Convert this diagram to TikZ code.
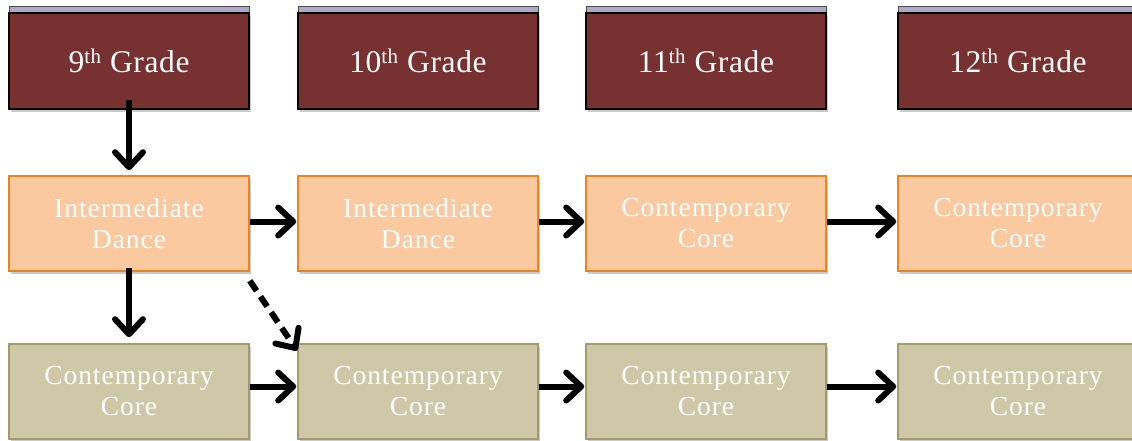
\documentclass[tikz,border=0pt]{standalone}
\usepackage{fontspec}
\setmainfont{Liberation Serif}
\usetikzlibrary{arrows.meta,shadows}
\definecolor{maroon}{HTML}{773130}
\definecolor{lav}{HTML}{B3A6CC}
\definecolor{orfill}{HTML}{FAC9A0}
\definecolor{ordraw}{HTML}{E9841E}
\definecolor{khfill}{HTML}{CEC8A8}
\definecolor{khdraw}{HTML}{A59A6A}
\tikzset{
  boxbase/.style={rectangle, minimum width=240pt, inner sep=0pt, align=center, text=white,
    drop shadow={shadow xshift=1.5pt, shadow yshift=-2.5pt, opacity=0.35, fill=black!60}},
  grade/.style={boxbase, fill=maroon, draw=black, line width=1.6pt, minimum height=96pt,
    font=\fontsize{31.5}{34}\selectfont\addfontfeature{LetterSpace=2}},
  strip/.style={rectangle, fill=lav, draw=black!70, line width=1pt, minimum width=240pt, minimum height=7pt, inner sep=0pt},
  orbox/.style={boxbase, fill=orfill, draw=ordraw, line width=1.6pt, minimum height=95pt,
    font=\fontsize{27.5}{31}\selectfont\addfontfeature{LetterSpace=3.5}},
  khbox/.style={boxbase, fill=khfill, draw=khdraw, line width=1.6pt, minimum height=95pt,
    font=\fontsize{27.5}{31}\selectfont\addfontfeature{LetterSpace=3.5}},
  arr/.style={line width=6pt, -{Straight Barb[length=15pt, width=28pt, round]}},
}
\newcommand{\gr}[1]{#1\textsuperscript{\fontsize{21}{21}\selectfont th} Grade}
\begin{document}
\begin{tikzpicture}[x=1pt,y=-1pt]
\useasboundingbox (0,0) rectangle (1132,440);
% grade strips
\node[strip] (s1) at (129,10) {};
\node[strip] (s2) at (418,10) {};
\node[strip] (s3) at (706,10) {};
\node[strip] (s4) at (1018,10) {};
% grade boxes
\node[grade] (g1) at (129,61) {\gr{9}};
\node[grade] (g2) at (418,61) {\gr{10}};
\node[grade] (g3) at (706,61) {\gr{11}};
\node[grade] (g4) at (1018,61) {\gr{12}};
% row 2
\node[orbox] (i1) at (129,223.5) {Intermediate\\Dance};
\node[orbox] (i2) at (418,223.5) {Intermediate\\Dance};
\node[orbox] (i3) at (706,223.5) {Contemporary\\Core};
\node[orbox] (i4) at (1018,223.5) {Contemporary\\Core};
% row 3
\node[khbox] (c1) at (129,391.5) {Contemporary\\Core};
\node[khbox] (c2) at (418,391.5) {Contemporary\\Core};
\node[khbox] (c3) at (706,391.5) {Contemporary\\Core};
\node[khbox] (c4) at (1018,391.5) {Contemporary\\Core};
\coordinate (dstart) at ([yshift=-9pt]i1.south east);
\coordinate (dend) at ([xshift=1pt, yshift=-9pt]c2.north west);
% arrows
\draw[arr, shorten <=-10pt, shorten >=5pt] (g1.south) -- (i1.north);
\draw[arr, shorten <=-4pt, shorten >=6pt] (i1.south) -- (c1.north);
\draw[arr, shorten >=1pt] ([yshift=2pt]i1.east) -- ([yshift=2pt]i2.west);
\draw[arr, shorten >=1pt] ([yshift=2pt]i2.east) -- ([yshift=2pt]i3.west);
\draw[arr, shorten >=1pt] ([yshift=2pt]i3.east) -- ([yshift=2pt]i4.west);
\draw[arr, shorten >=1pt] ([yshift=5pt]c1.east) -- ([yshift=5pt]c2.west);
\draw[arr, shorten >=1pt] ([yshift=5pt]c2.east) -- ([yshift=5pt]c3.west);
\draw[arr, shorten >=1pt] ([yshift=5pt]c3.east) -- ([yshift=5pt]c4.west);
\draw[arr, dash pattern=on 12pt off 7pt, shorten >=2pt] (dstart) -- (dend);
\end{tikzpicture}
\end{document}
